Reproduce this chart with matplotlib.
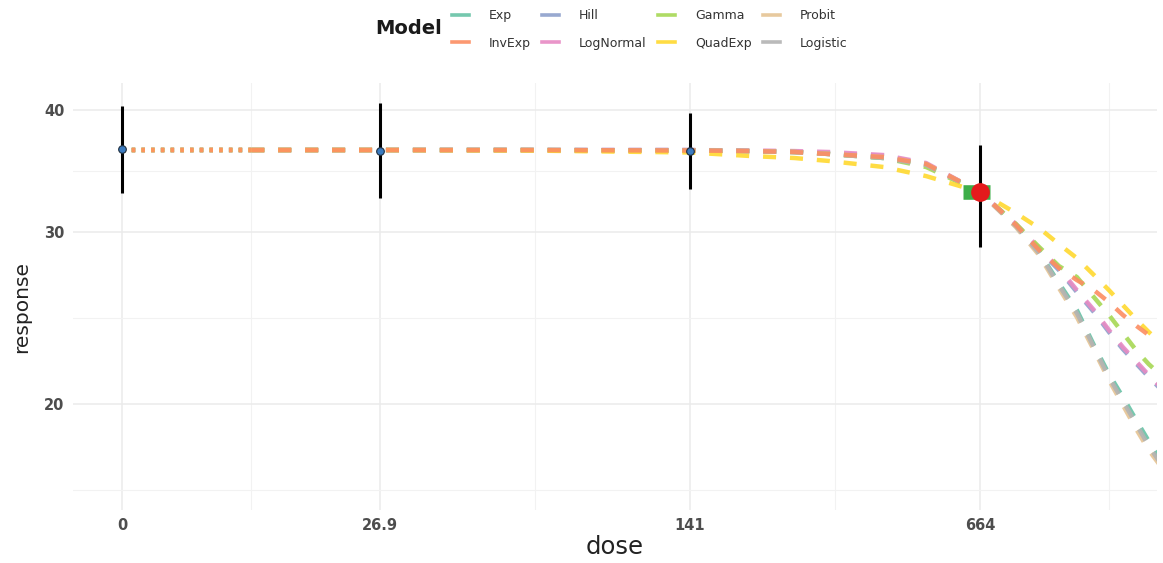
import numpy as np
import matplotlib
matplotlib.use("Agg")
import matplotlib.pyplot as plt
from matplotlib.lines import Line2D

# observed group summaries
obs_dose = [0, 26.9, 141, 664]
obs_mean = [36.45, 36.31, 36.31, 32.97]
obs_lo = [32.90, 32.50, 33.20, 28.96]
obs_hi = [40.38, 40.67, 39.72, 36.83]

# highlighted dose group and the band drawn behind it
bmd_dose = 664
bmd_resp = 32.97
bmd_lo, bmd_hi = 605, 701

# fitted model curves
curve_dose = [0, 10.7, 26.9, 59, 141, 194, 245, 295, 395, 496, 664,
              808, 917, 1022, 1128, 1239, 1346, 1454, 1570, 1678, 1784]
models = ["Exp", "InvExp", "Hill", "LogNormal", "Gamma", "QuadExp", "Probit", "Logistic"]
colors = ["#66C2A5", "#FC8D62", "#8DA0CB", "#E78AC3", "#A6D854", "#FFD92F", "#E5C494", "#B3B3B3"]
fits = {
    "Exp":       [36.40, 36.40, 36.40, 36.40, 36.36, 36.31, 36.23, 36.06, 35.72, 35.13, 32.97,
                  30.43, 28.62, 26.60, 24.96, 22.98, 21.46, 20.33, 19.21, 18.32, 17.60],
    "InvExp":    [36.40, 36.40, 36.40, 36.40, 36.36, 36.31, 36.23, 36.06, 35.80, 35.22, 32.97,
                  30.50, 28.75, 27.56, 26.79, 26.16, 25.43, 24.67, 24.03, 23.53, 23.20],
    "Hill":      [36.40, 36.40, 36.40, 36.40, 36.40, 36.31, 36.23, 36.14, 35.89, 35.22, 32.97,
                  30.43, 28.75, 27.43, 26.04, 24.84, 23.70, 22.76, 21.97, 21.31, 20.76],
    "LogNormal": [36.40, 36.40, 36.40, 36.40, 36.40, 36.36, 36.31, 36.23, 35.97, 35.30, 32.97,
                  30.57, 28.89, 27.56, 26.16, 24.96, 23.81, 22.87, 22.08, 21.41, 20.86],
    "Gamma":     [36.40, 36.40, 36.40, 36.40, 36.36, 36.31, 36.23, 36.06, 35.72, 34.97, 32.97,
                  30.57, 28.96, 27.69, 26.98, 25.73, 24.67, 23.64, 22.66, 21.97, 21.46],
    "QuadExp":   [36.40, 36.40, 36.40, 36.36, 36.19, 35.89, 35.72, 35.47, 34.97, 34.23, 32.97,
                  31.37, 30.28, 29.16, 28.21, 27.11, 26.16, 25.25, 24.38, 23.70, 23.14],
    "Probit":    [36.40, 36.40, 36.40, 36.40, 36.36, 36.31, 36.23, 36.06, 35.80, 35.22, 32.97,
                  30.35, 28.41, 26.29, 24.55, 22.71, 21.16, 19.95, 18.81, 17.94, 17.32],
    "Logistic":  [36.40, 36.40, 36.40, 36.40, 36.36, 36.31, 36.23, 36.06, 35.72, 35.13, 32.97,
                  30.43, 28.55, 26.47, 24.78, 22.87, 21.31, 20.14, 19.03, 18.11, 17.44],
}
# curves are dotted between the control and this dose, dashed beyond
dotted_until = 10.7

x_ticks = [0, 26.9, 141, 664]
x_labels = ["0", "26.9", "141", "664"]
y_ticks = [20, 30, 40]

SIGMA = 20.0
POW = 0.9


def fwd(x):
    t = np.arcsinh(np.asarray(x, dtype=float) / SIGMA)
    return np.sign(t) * np.abs(t) ** POW


def inv(u):
    u = np.asarray(u, dtype=float)
    return SIGMA * np.sinh(np.sign(u) * np.abs(u) ** (1 / POW))


plt.rcParams["lines.scale_dashes"] = False

fig = plt.figure(figsize=(11.63, 5.63), dpi=100)
ax = fig.add_axes([73 / 1163, 53 / 563, 1084 / 1163, 427 / 563])
ax.set_xscale("function", functions=(fwd, inv))
ax.set_yscale("log")

# minor breaks halfway between majors in transformed space
tb = fwd(x_ticks)
step = tb[1] - tb[0]
tb_ext = np.concatenate([[tb[0] - step], tb, [tb[-1] + step]])
x_minor = inv((tb_ext[:-1] + tb_ext[1:]) / 2)
lb = np.log(y_ticks)
lstep = lb[1] - lb[0]
lb_ext = np.concatenate([[lb[0] - lstep], lb, [lb[-1] + lstep]])
y_minor = np.exp((lb_ext[:-1] + lb_ext[1:]) / 2)

ax.set_xticks(x_ticks)
ax.set_xticklabels(x_labels)
ax.set_xticks(x_minor, minor=True)
ax.set_yticks(y_ticks)
ax.set_yticklabels([str(v) for v in y_ticks])
ax.set_yticks(y_minor, minor=True)
ax.yaxis.set_minor_formatter(matplotlib.ticker.NullFormatter())
ax.xaxis.set_minor_formatter(matplotlib.ticker.NullFormatter())

ax.grid(which="major", color="#EBEBEB", lw=1.1)
ax.grid(which="minor", color="#F2F2F2", lw=0.8)
ax.set_axisbelow(True)
for s in ax.spines.values():
    s.set_visible(False)
ax.tick_params(which="both", length=0)
ax.tick_params(axis="both", labelsize=10.5, labelcolor="#4D4D4D", pad=6)
for lab in ax.get_xticklabels() + ax.get_yticklabels():
    lab.set_fontweight("bold")

cd = np.array(curve_dose)
cut = np.searchsorted(cd, dotted_until) + 1
draw_order = ["Exp", "Hill", "LogNormal", "Gamma", "Probit", "Logistic", "QuadExp", "InvExp"]
for name in draw_order:
    col = colors[models.index(name)]
    resp = np.array(fits[name])
    ax.plot(cd[:cut], resp[:cut], color=col, lw=3.2, alpha=0.9,
            linestyle=(0, (2.5, 4.5)), zorder=2)
    ax.plot(cd[cut - 1:], resp[cut - 1:], color=col, lw=3.2, alpha=0.9,
            linestyle=(0, (9.4, 10.0)), zorder=2)

# observed means with error bars
ax.vlines(obs_dose, obs_lo, obs_hi, color="black", lw=2.2, zorder=3)
ax.plot(obs_dose, obs_mean, "o", ms=5.5, color="#3B7BC0", mec="#1F2F3F", mew=0.8, zorder=4)

# band and highlighted point
ax.plot([bmd_lo, bmd_hi], [bmd_resp, bmd_resp], color="#3DAE49", lw=10.5,
        solid_capstyle="butt", zorder=5)
ax.plot([bmd_dose], [bmd_resp], "o", ms=13.5, color="#E41A1C", mew=0, zorder=6)

ax.set_xlim(-3.5, 1756)
ax.set_ylim(15.58, 42.63)

ax.set_xlabel("dose", fontsize=17.5, color="#222222")
ax.set_ylabel("response", fontsize=14.5, color="#222222")
ax.xaxis.set_label_coords(0.5, -0.058)
ax.yaxis.set_label_coords(-0.0387, 0.475)

handles = [Line2D([0], [0], color=c, lw=2.6, alpha=0.9) for c in colors]
fig.legend(handles, models, ncol=4, loc="upper left",
           bbox_to_anchor=(452 / 1163, 1 - 9 / 563), frameon=False,
           fontsize=9, labelcolor="#333333", handlelength=1.36, handletextpad=1.6,
           columnspacing=0.9, labelspacing=1.18, borderpad=0, borderaxespad=0)
fig.text(375 / 1163, 1 - 29 / 563, "Model", fontsize=14, fontweight="bold",
         color="#1A1A1A", va="center", ha="left")

fig.savefig("out.png", dpi=100, facecolor="white")
